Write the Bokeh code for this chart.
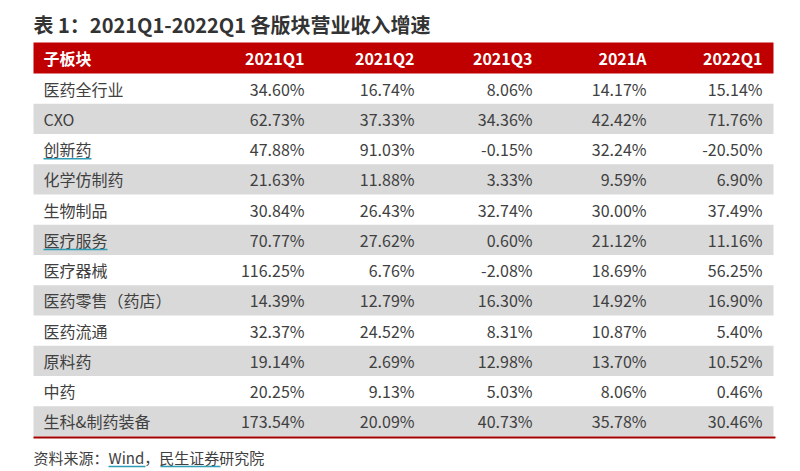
from bokeh.plotting import figure
from bokeh.models import ColumnDataSource, Range1d
from bokeh.core.properties import value
from bokeh.embed import file_html
from bokeh.resources import INLINE

# ---------------- data ----------------
title_text = "表 1：2021Q1-2022Q1 各版块营业收入增速"
source_label = "资料来源："
source_wind = "Wind"
source_comma = "，"
source_rest = "民生证券研究院"
header = ["子板块", "2021Q1", "2021Q2", "2021Q3", "2021A", "2022Q1"]
sectors = ["医药全行业", "CXO", "创新药", "化学仿制药", "生物制品", "医疗服务",
           "医疗器械", "医药零售（药店）", "医药流通", "原料药", "中药", "生科&制药装备"]
q1_2021 = ["34.60%", "62.73%", "47.88%", "21.63%", "30.84%", "70.77%",
           "116.25%", "14.39%", "32.37%", "19.14%", "20.25%", "173.54%"]
q2_2021 = ["16.74%", "37.33%", "91.03%", "11.88%", "26.43%", "27.62%",
           "6.76%", "12.79%", "24.52%", "2.69%", "9.13%", "20.09%"]
q3_2021 = ["8.06%", "34.36%", "-0.15%", "3.33%", "32.74%", "0.60%",
           "-2.08%", "16.30%", "8.31%", "12.98%", "5.03%", "40.73%"]
a_2021 = ["14.17%", "42.42%", "32.24%", "9.59%", "30.00%", "21.12%",
          "18.69%", "14.92%", "10.87%", "13.70%", "8.06%", "35.78%"]
q1_2022 = ["15.14%", "71.76%", "-20.50%", "6.90%", "37.49%", "11.16%",
           "56.25%", "16.90%", "5.40%", "10.52%", "0.46%", "30.46%"]
underlined_sectors = ["创新药", "医疗服务"]

# ---------------- layout ----------------
FONT = value("Noto Sans CJK SC")
TXT = "#404040"
RED = "#C00000"
GRAY = "#D9D9D9"
LEFT, RIGHT = 33, 773
HEAD_TOP, HEAD_BOT = 42, 73
ROW_H = 30.25
LABEL_X = 43
COL_RIGHT = [304, 414, 532, 646, 762]
FS = "16px"

p = figure(width=800, height=471, output_backend="svg", toolbar_location=None,
           x_range=Range1d(0, 800), y_range=Range1d(471, 0), min_border=0,
           background_fill_color="white", border_fill_color="white")
p.axis.visible = False
p.grid.visible = False
p.outline_line_color = None

n = len(sectors)
centers = [HEAD_BOT + (i + 0.5) * ROW_H for i in range(n)]

# gray bands on alternating rows
gi = [i for i in range(n) if i % 2 == 1]
p.quad(left=[LEFT] * len(gi), right=[RIGHT] * len(gi),
       top=[HEAD_BOT + i * ROW_H for i in gi],
       bottom=[HEAD_BOT + (i + 1) * ROW_H for i in gi],
       fill_color=GRAY, line_color=None)

# header band
p.quad(left=[LEFT], right=[RIGHT], top=[HEAD_TOP], bottom=[HEAD_BOT],
       fill_color=RED, line_color=None)

# bottom rule
bottom_y = HEAD_BOT + n * ROW_H + 1
p.segment(x0=[LEFT], x1=[RIGHT + 2], y0=[bottom_y], y1=[bottom_y],
          line_color="#A50000", line_width=2)

# title
p.text(x=[LEFT], y=[24], text=[title_text], text_font=FONT, text_font_size="20px",
       text_font_style="bold", text_color="#333333", text_baseline="middle", text_align="left")

# header texts
hy = (HEAD_TOP + HEAD_BOT) / 2
p.text(x=[LABEL_X], y=[hy], text=[header[0]], text_font=FONT, text_font_size=FS,
       text_font_style="bold", text_color="white", text_baseline="middle", text_align="left")
p.text(x=COL_RIGHT, y=[hy] * 5, text=header[1:], text_font=FONT, text_font_size=FS,
       text_font_style="bold", text_color="white", text_baseline="middle", text_align="right")

# body
src = ColumnDataSource(dict(y=centers, name=sectors, c1=q1_2021, c2=q2_2021,
                            c3=q3_2021, c4=a_2021, c5=q1_2022))
p.text(x=LABEL_X, y="y", text="name", source=src, text_font=FONT, text_font_size=FS,
       text_color=TXT, text_baseline="middle", text_align="left")
for xr, col in zip(COL_RIGHT, ["c1", "c2", "c3", "c4", "c5"]):
    p.text(x=xr, y="y", text=col, source=src, text_font=FONT, text_font_size=FS,
           text_color=TXT, text_baseline="middle", text_align="right")

# spell-check style underlines
TEAL = "#2F9DB5"
for s in underlined_sectors:
    i = sectors.index(s)
    yy = centers[i] + 9.5
    p.segment(x0=[LABEL_X], x1=[LABEL_X + 16 * len(s)], y0=[yy], y1=[yy],
              line_color=TEAL, line_width=1.5)

# source note
sy = 457
p.text(x=[LEFT], y=[sy], text=[source_label + source_wind + source_comma + source_rest],
       text_font=FONT, text_font_size="15px", text_color=TXT,
       text_baseline="middle", text_align="left")
wx0 = LEFT + 15 * len(source_label)
wx1 = wx0 + 37
rx0 = wx1 + 15
p.segment(x0=[wx0, rx0], x1=[wx1, rx0 + 15 * 4], y0=[sy + 9, sy + 9], y1=[sy + 9, sy + 9],
          line_color=TEAL, line_width=1.5)

open("out.html", "w").write(file_html(p, INLINE))
